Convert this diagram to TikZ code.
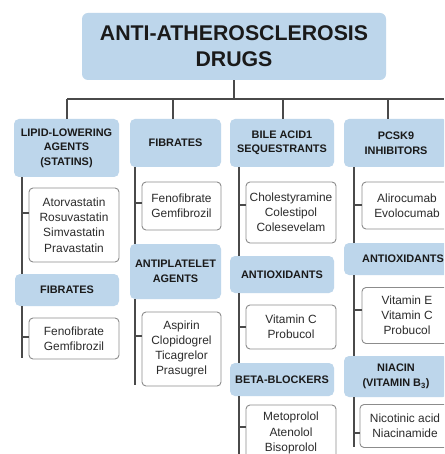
\documentclass[tikz,border=0pt]{standalone}
\usepackage{fontspec}
\setmainfont{Liberation Sans}
\definecolor{hdrblue}{HTML}{BDD6EB}
\definecolor{linegray}{HTML}{4A4A4A}
\definecolor{boxgray}{HTML}{8C8C8C}
\definecolor{txtdark}{HTML}{1A1A1A}
\definecolor{txtitem}{HTML}{2C2C2C}
\begin{document}
\begin{tikzpicture}[x=1pt,y=-1pt,
  hdr/.style={fill=hdrblue,draw=none,rounded corners=5pt,inner sep=0pt,align=center,
    text=txtdark,font=\fontsize{10.9}{14.5}\selectfont\bfseries},
  ttl/.style={fill=hdrblue,draw=none,rounded corners=6pt,inner sep=0pt,align=center,
    text=txtdark,font=\fontsize{21.3}{26}\selectfont\bfseries},
  itm/.style={fill=white,draw=boxgray,line width=0.9pt,rounded corners=4pt,inner sep=0pt,align=center,
    text=txtitem,font=\fontsize{11.9}{15.2}\selectfont},
  conn/.style={draw=linegray,line width=1.3pt}]
\clip (0,0) rectangle (444,454);
\fill[white] (0,0) rectangle (444,454);
% title
\node[ttl,minimum width=304pt,minimum height=67pt] (title) at (234,46.5) {ANTI-ATHEROSCLEROSIS\\DRUGS};
% headers
\node[hdr,minimum width=105pt,minimum height=58pt] (h1) at (66.5,148) {LIPID-LOWERING\\AGENTS\\(STATINS)};
\node[hdr,minimum width=91pt,minimum height=48pt] (h2) at (175.5,143) {FIBRATES};
\node[hdr,minimum width=104pt,minimum height=48pt] (h3) at (282,143) {BILE ACID1\\SEQUESTRANTS};
\node[hdr,minimum width=104pt,minimum height=48pt] (h4) at (396,143) {PCSK9\\INHIBITORS};
\node[hdr,minimum width=104pt,minimum height=32pt] (h1b) at (67,290) {FIBRATES};
\node[hdr,minimum width=91pt,minimum height=55pt] (h2b) at (175.5,271.5) {ANTIPLATELET\\AGENTS};
\node[hdr,minimum width=104pt,minimum height=37pt] (h3b) at (282,274.5) {ANTIOXIDANTS};
\node[hdr,minimum width=118pt,minimum height=32pt] (h4b) at (403,259) {ANTIOXIDANTS};
\node[hdr,minimum width=104pt,minimum height=33pt] (h3c) at (282,379.5) {BETA-BLOCKERS};
\node[hdr,minimum width=104pt,minimum height=41pt] (h4c) at (396,376.5) {NIACIN\\(VITAMIN B\textsubscript{3})};
% items
\node[itm,minimum width=90pt,minimum height=74pt] (i11) at (74,225) {Atorvastatin\\Rosuvastatin\\Simvastatin\\Pravastatin};
\node[itm,minimum width=90pt,minimum height=41pt] (i12) at (74,338.5) {Fenofibrate\\Gemfibrozil};
\node[itm,minimum width=79pt,minimum height=48pt] (i21) at (181.5,206) {Fenofibrate\\Gemfibrozil};
\node[itm,minimum width=79pt,minimum height=74pt] (i22) at (181.5,349) {Aspirin\\Clopidogrel\\Ticagrelor\\Prasugrel};
\node[itm,minimum width=90pt,minimum height=61pt] (i31) at (291,212.5) {Cholestyramine\\Colestipol\\Colesevelam};
\node[itm,minimum width=90pt,minimum height=44pt] (i32) at (291,327) {Vitamin C\\Probucol};
\node[itm,minimum width=90pt,minimum height=56pt] (i33) at (291,433) {Metoprolol\\Atenolol\\Bisoprolol};
\node[itm,minimum width=90pt,minimum height=47pt] (i41) at (407,205.5) {Alirocumab\\Evolocumab};
\node[itm,minimum width=90pt,minimum height=56pt] (i42) at (407,315.5) {Vitamin E\\Vitamin C\\Probucol};
\node[itm,minimum width=90pt,minimum height=43pt] (i43) at (405,426) {Nicotinic acid\\Niacinamide};
% bus
\coordinate (bus) at (234,99);
\coordinate (bL) at (67,99);
\coordinate (bR) at (444,99);
\coordinate (d2) at (173,99);
\coordinate (d3) at (283,99);
\coordinate (d4) at (388,99);
\draw[conn] (title.south) -- (bus);
\draw[conn] (bL) -- (bR);
\draw[conn] (bL) -- (bL |- h1.north);
\draw[conn] (d2) -- (d2 |- h2.north);
\draw[conn] (d3) -- (d3 |- h3.north);
\draw[conn] (d4) -- (d4 |- h4.north);
% spines
\coordinate (s1) at (22,358);
\coordinate (s2) at (135,385);
\coordinate (s3) at (239,460);
\coordinate (s4) at (354,447);
\draw[conn] (s1 |- h1.south) -- (s1 |- h1b.north);
\draw[conn] (s1 |- h1b.south) -- (s1);
\draw[conn] (s2 |- h2.south) -- (s2 |- h2b.north);
\draw[conn] (s2 |- h2b.south) -- (s2);
\draw[conn] (s3 |- h3.south) -- (s3 |- h3b.north);
\draw[conn] (s3 |- h3b.south) -- (s3 |- h3c.north);
\draw[conn] (s3 |- h3c.south) -- (s3);
\draw[conn] (s4 |- h4.south) -- (s4 |- h4b.north);
\draw[conn] (s4 |- h4b.south) -- (s4 |- h4c.north);
\draw[conn] (s4 |- h4c.south) -- (s4);
% ticks
\coordinate (t11) at (22,213);  \draw[conn] (t11) -- (t11 -| i11.west);
\coordinate (t12) at (22,337);  \draw[conn] (t12) -- (t12 -| i12.west);
\coordinate (t21) at (135,203); \draw[conn] (t21) -- (t21 -| i21.west);
\coordinate (t22) at (135,336); \draw[conn] (t22) -- (t22 -| i22.west);
\coordinate (t31) at (239,205); \draw[conn] (t31) -- (t31 -| i31.west);
\coordinate (t32) at (239,327); \draw[conn] (t32) -- (t32 -| i32.west);
\coordinate (t33) at (239,427); \draw[conn] (t33) -- (t33 -| i33.west);
\coordinate (t41) at (354,205); \draw[conn] (t41) -- (t41 -| i41.west);
\coordinate (t42) at (354,310); \draw[conn] (t42) -- (t42 -| i42.west);
\coordinate (t43) at (354,433); \draw[conn] (t43) -- (t43 -| i43.west);
\end{tikzpicture}
\end{document}
